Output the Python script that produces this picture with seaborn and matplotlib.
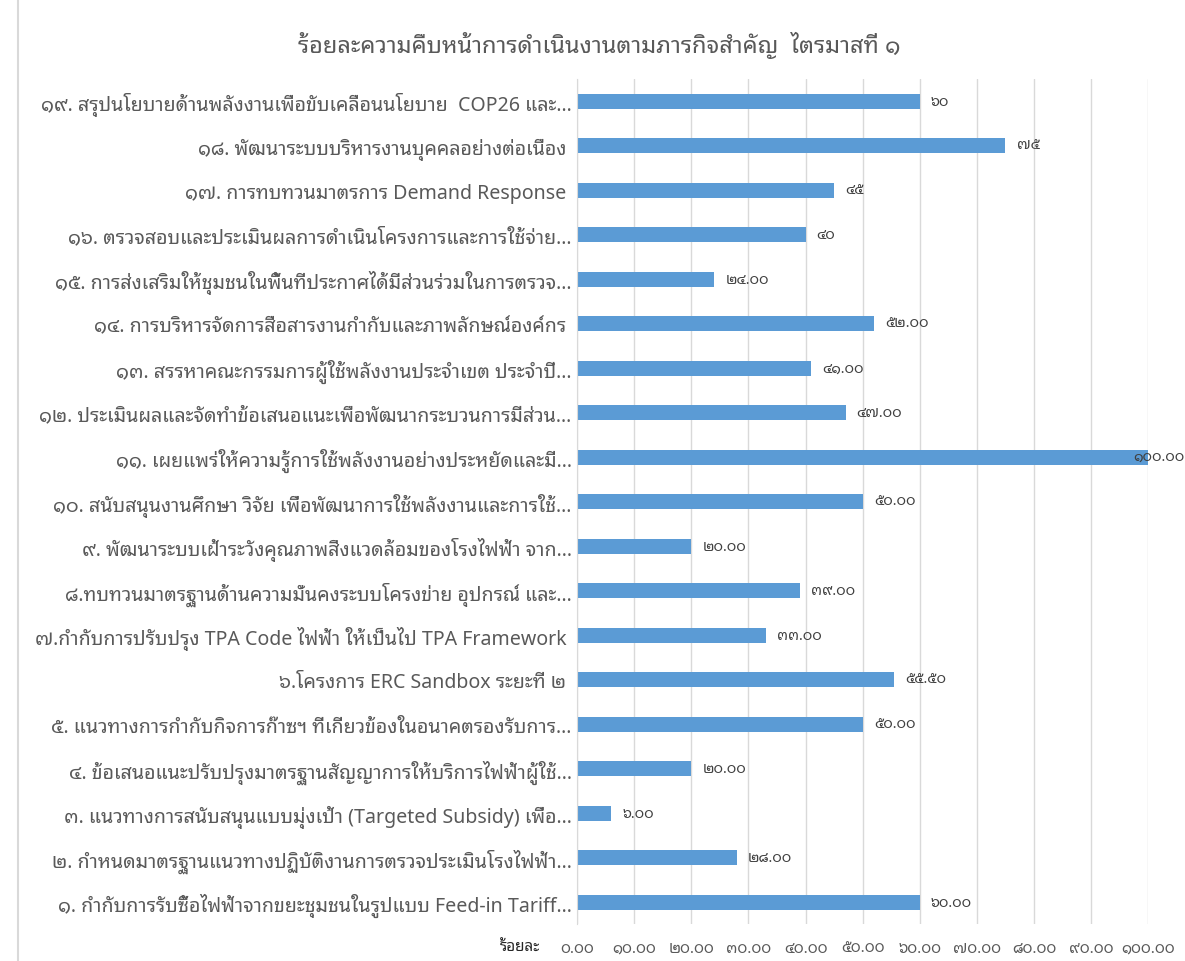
import matplotlib
matplotlib.use('Agg')
import matplotlib.pyplot as plt
import seaborn as sns
import pandas as pd

# items listed top to bottom as shown in the chart
tasks = [
    '๑๙. สรุปนโยบายด้านพลังงานเพื่อขับเคลื่อนนโยบาย  COP26 และ...',
    '๑๘. พัฒนาระบบบริหารงานบุคคลอย่างต่อเนื่อง ',
    '๑๗. การทบทวนมาตรการ Demand Response ',
    '๑๖. ตรวจสอบและประเมินผลการดำเนินโครงการและการใช้จ่าย...',
    '๑๕. การส่งเสริมให้ชุมชนในพื้นที่ประกาศได้มีส่วนร่วมในการตรวจ...',
    '๑๔. การบริหารจัดการสื่อสารงานกำกับและภาพลักษณ์องค์กร ',
    '๑๓. สรรหาคณะกรรมการผู้ใช้พลังงานประจำเขต ประจำปี...',
    '๑๒. ประเมินผลและจัดทำข้อเสนอแนะเพื่อพัฒนากระบวนการมีส่วน...',
    '๑๑. เผยแพร่ให้ความรู้การใช้พลังงานอย่างประหยัดและมี...',
    '๑๐. สนับสนุนงานศึกษา วิจัย เพื่อพัฒนาการใช้พลังงานและการใช้...',
    '๙. พัฒนาระบบเฝ้าระวังคุณภาพสิ่งแวดล้อมของโรงไฟฟ้า จาก...',
    '๘.ทบทวนมาตรฐานด้านความมั่นคงระบบโครงข่าย อุปกรณ์ และ...',
    '๗.กำกับการปรับปรุง TPA Code ไฟฟ้า ให้เป็นไป TPA Framework ',
    '๖.โครงการ ERC Sandbox ระยะที่ ๒ ',
    '๕. แนวทางการกำกับกิจการก๊าซฯ ที่เกี่ยวข้องในอนาคตรองรับการ...',
    '๔. ข้อเสนอแนะปรับปรุงมาตรฐานสัญญาการให้บริการไฟฟ้าผู้ใช้...',
    '๓. แนวทางการสนับสนุนแบบมุ่งเป้า (Targeted Subsidy) เพื่อ...',
    '๒. กำหนดมาตรฐานแนวทางปฏิบัติงานการตรวจประเมินโรงไฟฟ้า...',
    '๑. กำกับการรับซื้อไฟฟ้าจากขยะชุมชนในรูปแบบ Feed-in Tariff...',
]
progress = [60, 75, 45, 40, 24, 52, 41, 47, 100, 50, 20, 39, 33, 55.5, 50, 20, 6, 28, 60]
value_labels = ['๖๐', '๗๕', '๔๕', '๔๐', '๒๔.๐๐', '๕๒.๐๐', '๔๑.๐๐', '๔๗.๐๐', '๑๐๐.๐๐',
                '๕๐.๐๐', '๒๐.๐๐', '๓๙.๐๐', '๓๓.๐๐', '๕๕.๕๐', '๕๐.๐๐', '๒๐.๐๐', '๖.๐๐',
                '๒๘.๐๐', '๖๐.๐๐']
xticks = [0, 10, 20, 30, 40, 50, 60, 70, 80, 90, 100]
xtick_labels = ['๐.๐๐', '๑๐.๐๐', '๒๐.๐๐', '๓๐.๐๐', '๔๐.๐๐', '๕๐.๐๐',
                '๖๐.๐๐', '๗๐.๐๐', '๘๐.๐๐', '๙๐.๐๐', '๑๐๐.๐๐']

df = pd.DataFrame({'task': tasks, 'progress': progress})

sns.set_style('white')
plt.rcParams['font.family'] = ['Noto Sans Thai Looped', 'DejaVu Sans']
grey = '#595959'

fig = plt.figure(figsize=(11.85, 9.62), dpi=100)
ax = fig.add_axes([0.487, 0.038, 0.482, 0.879])

sns.barplot(data=df, x='progress', y='task', orient='h', color='#5B9BD5',
            saturation=1, width=0.34, linewidth=0, ax=ax)

ax.set_xlim(0, 100)
ax.set_xticks(xticks)
ax.set_xticklabels(xtick_labels)
ax.grid(axis='x', color='#d9d9d9', linewidth=1)
ax.set_axisbelow(True)
for s in ['top', 'right', 'bottom']:
    ax.spines[s].set_visible(False)
ax.spines['left'].set_color('#d9d9d9')
ax.tick_params(axis='x', length=0, pad=12, labelsize=11, labelcolor=grey)
ax.tick_params(axis='y', length=0, pad=4, labelsize=14.1, labelcolor=grey)
ax.set_xlabel('')
ax.set_ylabel('')

# data labels; the 100% one is pulled back so it stays inside the figure
for bar, lab in zip(ax.patches, value_labels):
    end = bar.get_x() + bar.get_width()
    off = -11 if bar.get_width() >= 95 else 8
    ax.annotate(lab, (end, bar.get_y() + bar.get_height() / 2), xytext=(off, 0),
                textcoords='offset points', va='center', ha='left',
                fontsize=10.5, color='#404040', annotation_clip=False)

ax.text(-0.065, -0.027, 'ร้อยละ', transform=ax.transAxes, ha='right', va='center',
        fontsize=11, fontweight='bold', color='#262626')

fig.suptitle('ร้อยละความคืบหน้าการดำเนินงานตามภารกิจสำคัญ  ไตรมาสที่ ๑', x=0.506, y=0.953,
             fontsize=17, color=grey, va='center')

# chart area border (only the left edge falls inside the image)
fig.patches.append(plt.Rectangle((18 / 1185, -0.1), 1.2, 1.2, transform=fig.transFigure,
                                 fill=False, edgecolor='#d9d9d9', linewidth=1.5))

fig.savefig('out.png', dpi=100)
